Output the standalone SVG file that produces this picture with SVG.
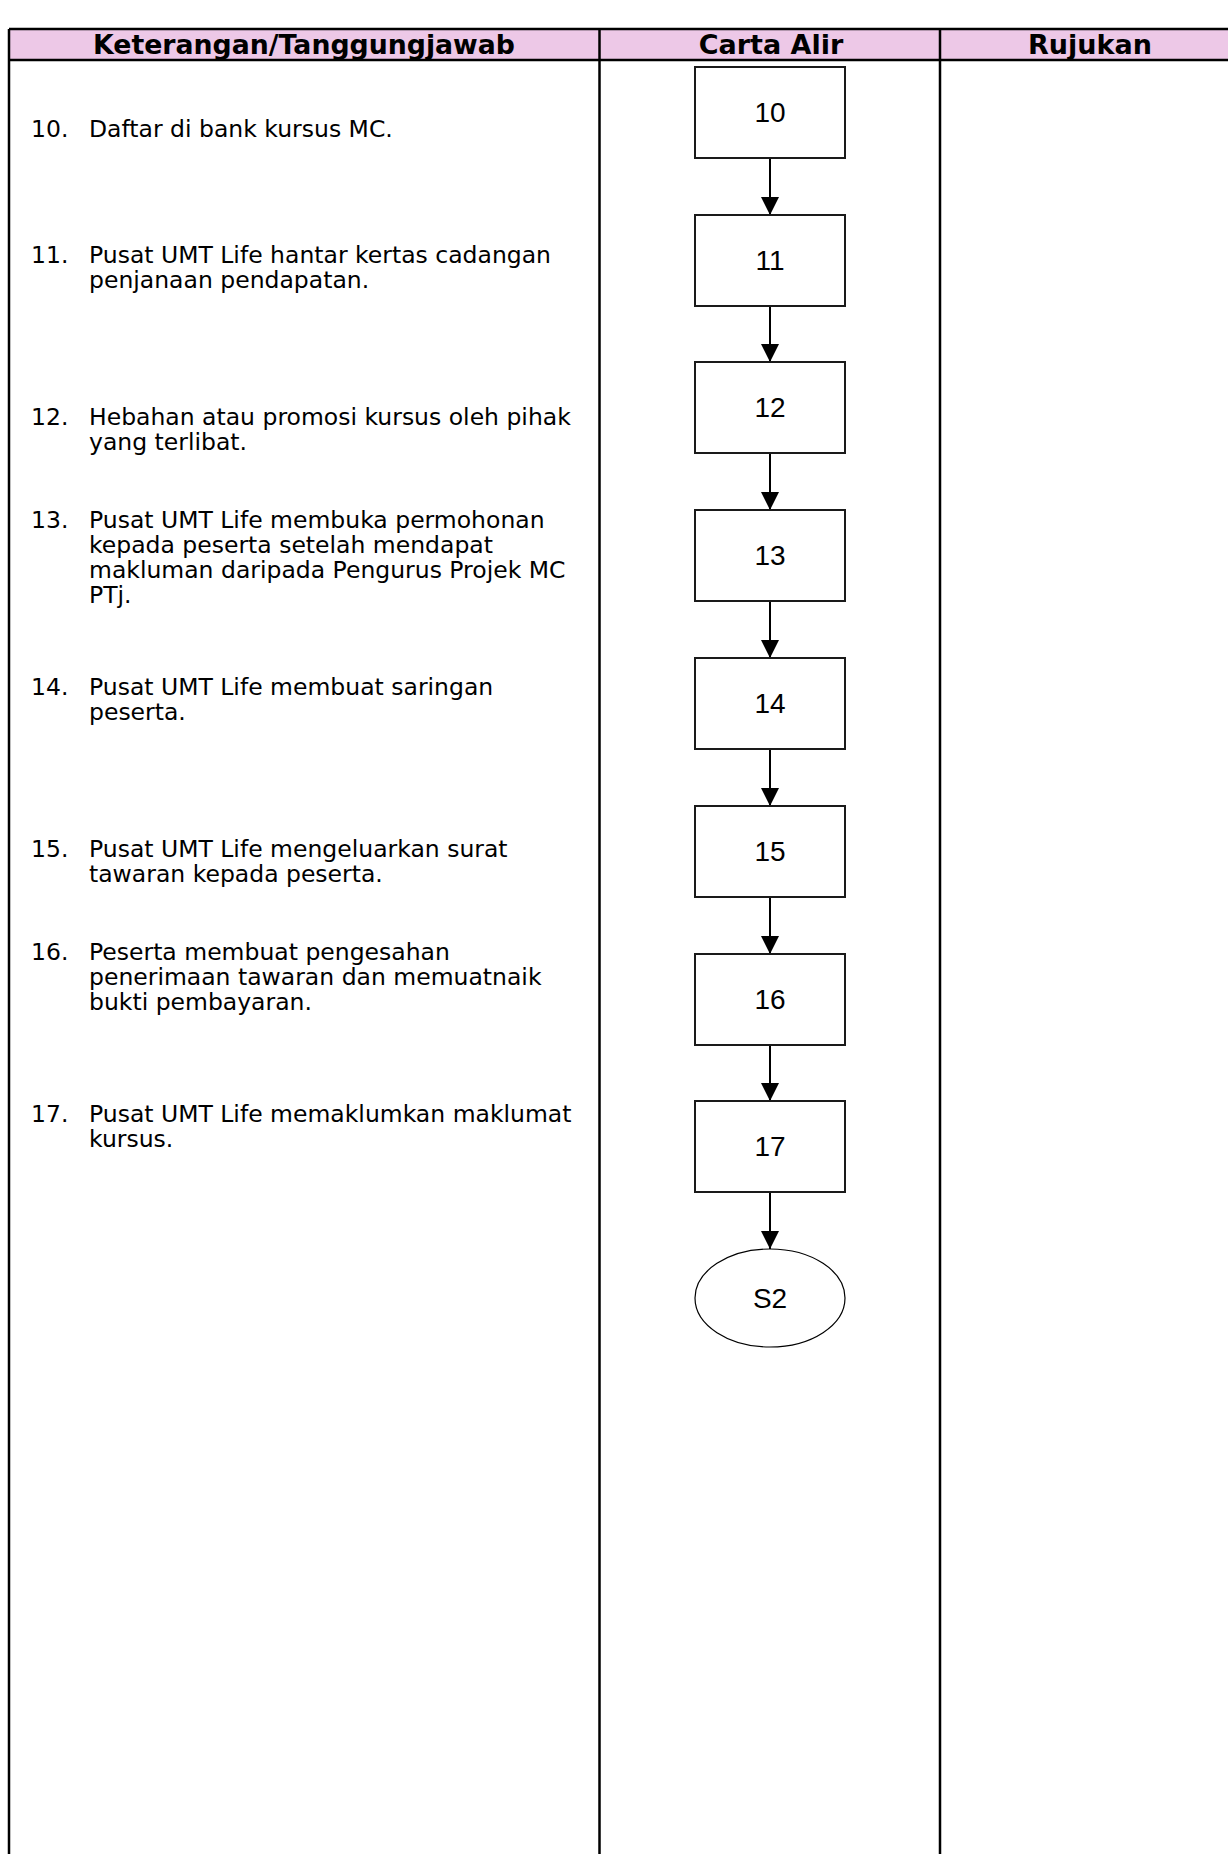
<svg xmlns="http://www.w3.org/2000/svg" width="1228" height="1854" viewBox="0 0 1228 1854">
<style>
.hdr{font-family:"DejaVu Sans",sans-serif;font-weight:bold;font-size:27px;fill:#000;text-anchor:middle}
.body{font-family:"DejaVu Sans",sans-serif;font-size:23.5px;fill:#000}
.box{fill:#fff;stroke:#1a1a1a;stroke-width:2}
.lbl{font-family:"Liberation Sans",sans-serif;font-size:28px;fill:#000;text-anchor:middle}
.grid{stroke:#000;stroke-width:2.5;fill:none}
.conn{stroke:#000;stroke-width:2;fill:none}
</style>
<defs>
<marker id="ah" markerUnits="userSpaceOnUse" markerWidth="18" markerHeight="18" viewBox="0 0 18 18" refX="18" refY="9" orient="auto">
<path d="M0,0 L18,9 L0,18 Z" fill="#000"/>
</marker>
</defs>
<rect width="1228" height="1854" fill="#fff"/>
<g id="table">
<rect x="9" y="29" width="1240" height="31" fill="#EDC8E7"/>
<path class="grid" d="M9,29 H1240 M9,60 H1240 M9,29 V1854 M599.5,29 V1854 M940,29 V1854"/>
<text class="hdr" x="304" y="54" textLength="422" lengthAdjust="spacingAndGlyphs">Keterangan/Tanggungjawab</text>
<text class="hdr" x="771" y="54">Carta Alir</text>
<text class="hdr" x="1090" y="54">Rujukan</text>
</g>
<g id="descriptions" class="body">
<text x="31" y="137">10.</text><text x="89" y="137">Daftar di bank kursus MC.</text>
<text x="31" y="263">11.</text><text x="89" y="263">Pusat UMT Life hantar kertas cadangan</text>
<text x="89" y="288">penjanaan pendapatan.</text>
<text x="31" y="425">12.</text><text x="89" y="425">Hebahan atau promosi kursus oleh pihak</text>
<text x="89" y="450">yang terlibat.</text>
<text x="31" y="528">13.</text><text x="89" y="528">Pusat UMT Life membuka permohonan</text>
<text x="89" y="553">kepada peserta setelah mendapat</text>
<text x="89" y="578">makluman daripada Pengurus Projek MC</text>
<text x="89" y="603">PTj.</text>
<text x="31" y="695">14.</text><text x="89" y="695">Pusat UMT Life membuat saringan</text>
<text x="89" y="720">peserta.</text>
<text x="31" y="857">15.</text><text x="89" y="857">Pusat UMT Life mengeluarkan surat</text>
<text x="89" y="882">tawaran kepada peserta.</text>
<text x="31" y="960">16.</text><text x="89" y="960">Peserta membuat pengesahan</text>
<text x="89" y="985">penerimaan tawaran dan memuatnaik</text>
<text x="89" y="1010">bukti pembayaran.</text>
<text x="31" y="1122">17.</text><text x="89" y="1122">Pusat UMT Life memaklumkan maklumat</text>
<text x="89" y="1147">kursus.</text>
</g>
<g id="connectors">
<path class="conn" marker-end="url(#ah)" d="M770,158 V215"/>
<path class="conn" marker-end="url(#ah)" d="M770,306 V362"/>
<path class="conn" marker-end="url(#ah)" d="M770,453 V510"/>
<path class="conn" marker-end="url(#ah)" d="M770,601 V658"/>
<path class="conn" marker-end="url(#ah)" d="M770,749 V806"/>
<path class="conn" marker-end="url(#ah)" d="M770,897 V954"/>
<path class="conn" marker-end="url(#ah)" d="M770,1045 V1101"/>
<path class="conn" marker-end="url(#ah)" d="M770,1192 V1249"/>
</g>
<g id="n10"><rect class="box" x="695" y="67" width="150" height="91"/><text class="lbl" x="770" y="122">10</text></g>
<g id="n11"><rect class="box" x="695" y="215" width="150" height="91"/><text class="lbl" x="770" y="270">11</text></g>
<g id="n12"><rect class="box" x="695" y="362" width="150" height="91"/><text class="lbl" x="770" y="417">12</text></g>
<g id="n13"><rect class="box" x="695" y="510" width="150" height="91"/><text class="lbl" x="770" y="565">13</text></g>
<g id="n14"><rect class="box" x="695" y="658" width="150" height="91"/><text class="lbl" x="770" y="713">14</text></g>
<g id="n15"><rect class="box" x="695" y="806" width="150" height="91"/><text class="lbl" x="770" y="861">15</text></g>
<g id="n16"><rect class="box" x="695" y="954" width="150" height="91"/><text class="lbl" x="770" y="1009">16</text></g>
<g id="n17"><rect class="box" x="695" y="1101" width="150" height="91"/><text class="lbl" x="770" y="1156">17</text></g>
<g id="s2"><ellipse cx="770" cy="1298" rx="75" ry="49" fill="#fff" stroke="#000" stroke-width="1.2"/><text class="lbl" x="770" y="1308">S2</text></g>
</svg>
